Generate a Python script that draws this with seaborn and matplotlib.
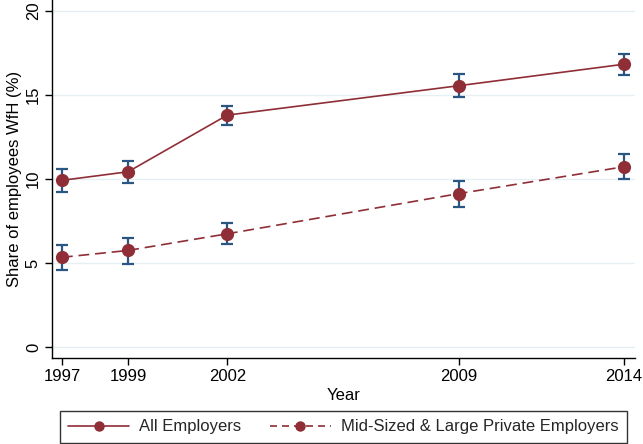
import matplotlib
matplotlib.use("Agg")
import matplotlib.pyplot as plt
import seaborn as sns
import pandas as pd
from matplotlib.lines import Line2D

years = [1997, 1999, 2002, 2009, 2014]
all_emp = [9.92, 10.43, 13.8, 15.55, 16.83]
all_lo = [9.25, 9.78, 13.2, 14.9, 16.2]
all_hi = [10.6, 11.1, 14.36, 16.22, 17.44]
mid_emp = [5.34, 5.75, 6.74, 9.13, 10.73]
mid_lo = [4.58, 4.96, 6.11, 8.35, 10.02]
mid_hi = [6.07, 6.49, 7.36, 9.9, 11.49]
series_names = ["All Employers", "Mid-Sized & Large Private Employers"]
y_ticks = [0, 5, 10, 15, 20]

sns.set_theme(style="white")
plt.rcParams['font.family'] = ['Liberation Sans', 'DejaVu Sans']

red = "#8f2e36"
blue = "#2a5684"
grid = "#e6eff1"
fs = 12

df = pd.DataFrame({
    "Year": years * 2,
    "Share": all_emp + mid_emp,
    "Series": [series_names[0]] * 5 + [series_names[1]] * 5,
})

fig = plt.figure(figsize=(6.43, 4.44), dpi=100)
ax = fig.add_axes([52/643, 1 - 358/444, (635-52)/643, 358/444])

for lo, hi in [(all_lo, all_hi), (mid_lo, mid_hi)]:
    mids = [(a + b) / 2 for a, b in zip(lo, hi)]
    err = [[m - a for m, a in zip(mids, lo)], [b - m for m, b in zip(mids, hi)]]
    ax.errorbar(years, mids, yerr=err, fmt="none", ecolor=blue, elinewidth=1.6,
                capsize=4.5, capthick=1.6, zorder=2)

sns.lineplot(data=df, x="Year", y="Share", hue="Series", style="Series",
             palette=[red, red], dashes=[(1, 0), (6.5, 3.5)], markers=["o", "o"],
             markersize=9.5, markeredgewidth=0, linewidth=1.2, ax=ax, legend=False,
             zorder=3)

ax.set_xlim(1996.7, 2014.33)
ax.set_ylim(-0.65, 20.65)
ax.set_xticks(years)
ax.set_yticks(y_ticks)
ax.set_yticklabels([str(t) for t in y_ticks], rotation=90, va="center")
for t in y_ticks:
    ax.axhline(t, color=grid, lw=1.0, zorder=0)
ax.tick_params(axis="both", which="both", direction="out", length=5, width=1,
               color="black", labelsize=fs, labelcolor="black", bottom=True, left=True, pad=3)
for s in ["top", "right"]:
    ax.spines[s].set_visible(False)
for s in ["left", "bottom"]:
    ax.spines[s].set_color("black")
    ax.spines[s].set_linewidth(1.0)
ax.set_xlabel("Year", fontsize=fs, color="black", labelpad=3)
ax.set_ylabel("Share of employees WfH (%)", fontsize=fs, color="black", labelpad=3)

handles = [
    Line2D([0], [0], color=red, lw=1.2, marker="o", markersize=7.5, markeredgewidth=0),
    Line2D([0], [0], color=red, lw=1.2, ls=(0, (4.2, 3)), marker="o", markersize=7.5, markeredgewidth=0),
]
leg = fig.legend(handles, series_names, loc="lower center", ncol=2,
                 bbox_to_anchor=(343.5/643, 1/444), frameon=True, fancybox=False,
                 edgecolor="black", fontsize=fs, handlelength=3.66, columnspacing=1.7,
                 borderpad=0.52, handletextpad=0.6, borderaxespad=0)
leg.get_frame().set_linewidth(1.0)

fig.savefig("out.png", dpi=100, facecolor="white")
